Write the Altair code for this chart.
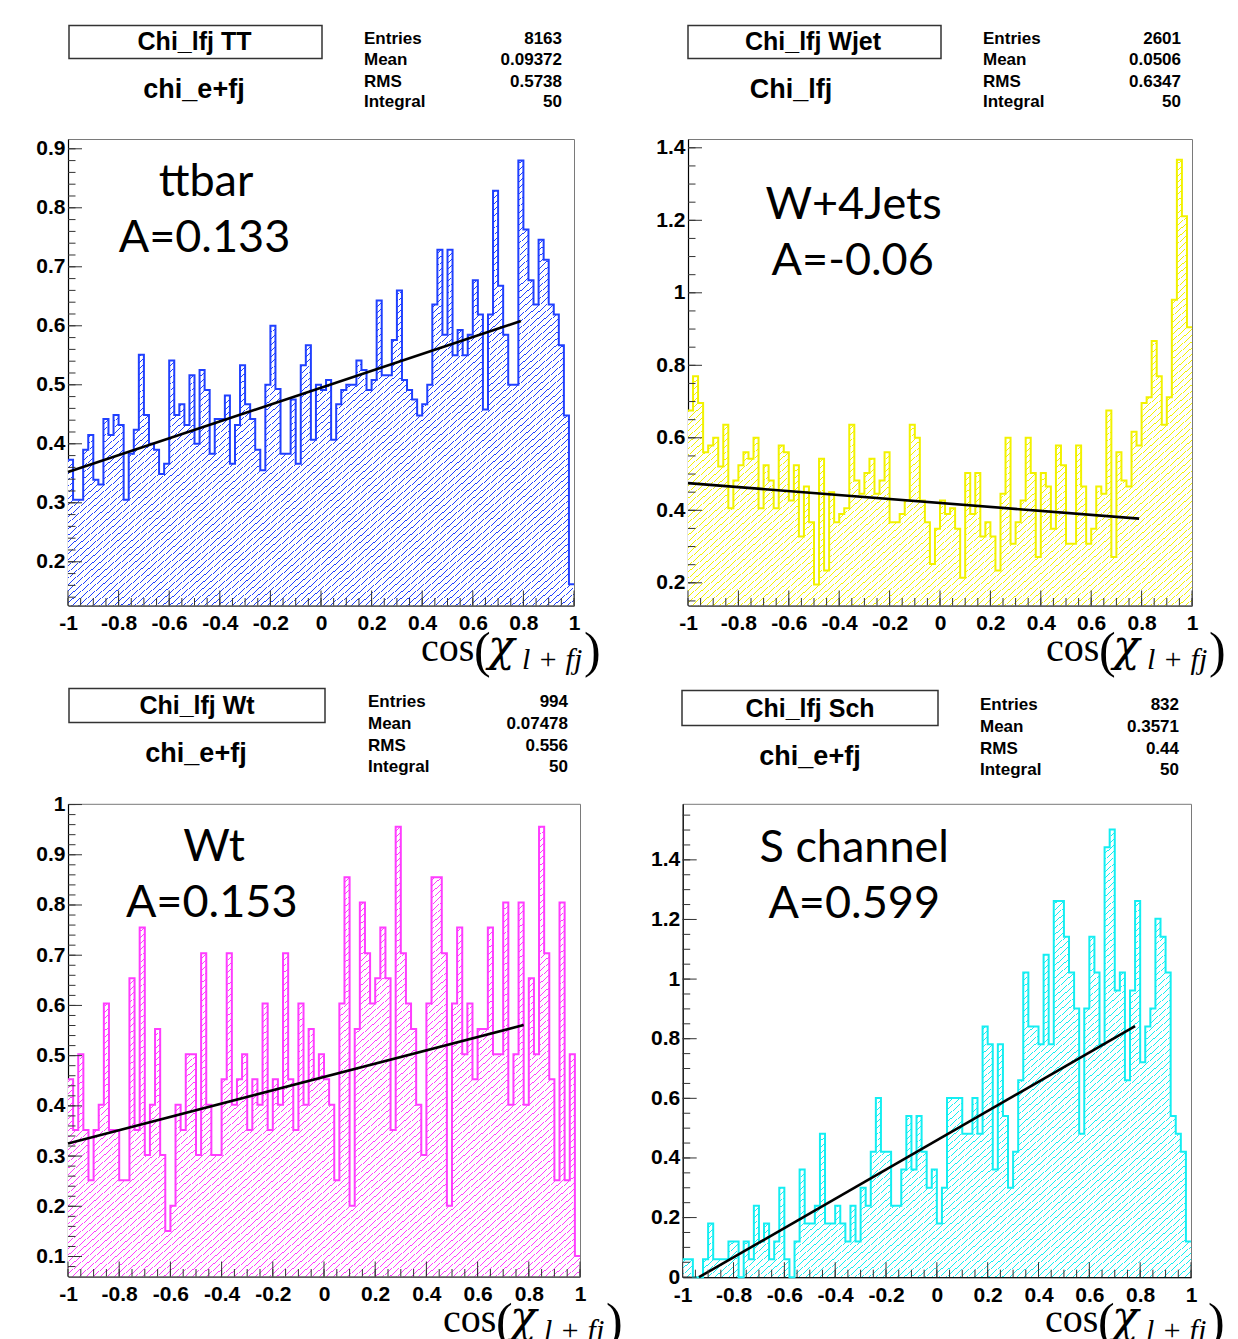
import altair as alt
import pandas as pd

# ---------------- data ----------------
tt_values = [0.373, 0.305, 0.305, 0.390, 0.415, 0.339, 0.331, 0.442, 0.415, 0.449,
             0.432, 0.305, 0.383, 0.424, 0.551, 0.449, 0.400, 0.390, 0.349, 0.366,
             0.541, 0.449, 0.467, 0.432, 0.516, 0.400, 0.525, 0.491, 0.383, 0.442,
             0.442, 0.482, 0.366, 0.432, 0.533, 0.467, 0.442, 0.390, 0.355, 0.500,
             0.600, 0.493, 0.383, 0.383, 0.475, 0.366, 0.533, 0.567, 0.407, 0.500,
             0.491, 0.508, 0.407, 0.467, 0.491, 0.500, 0.500, 0.541, 0.525, 0.491,
             0.508, 0.643, 0.516, 0.516, 0.576, 0.660, 0.508, 0.491, 0.475, 0.448,
             0.467, 0.500, 0.636, 0.729, 0.585, 0.729, 0.550, 0.593, 0.550, 0.585,
             0.677, 0.619, 0.458, 0.619, 0.829, 0.668, 0.585, 0.500, 0.500, 0.880,
             0.763, 0.677, 0.636, 0.746, 0.712, 0.636, 0.619, 0.567, 0.448, 0.162]

wjet_values = [0.675, 0.770, 0.696, 0.560, 0.579, 0.600, 0.521, 0.636, 0.406, 0.482,
               0.524, 0.560, 0.542, 0.600, 0.406, 0.524, 0.482, 0.406, 0.579, 0.560,
               0.427, 0.524, 0.328, 0.466, 0.367, 0.195, 0.542, 0.234, 0.450, 0.367,
               0.390, 0.406, 0.636, 0.482, 0.446, 0.503, 0.542, 0.446, 0.482, 0.560,
               0.367, 0.367, 0.390, 0.427, 0.636, 0.600, 0.427, 0.367, 0.252, 0.349,
               0.427, 0.390, 0.406, 0.349, 0.214, 0.503, 0.390, 0.503, 0.328, 0.367,
               0.328, 0.234, 0.446, 0.600, 0.308, 0.367, 0.427, 0.600, 0.503, 0.271,
               0.503, 0.466, 0.349, 0.579, 0.524, 0.308, 0.308, 0.579, 0.466, 0.308,
               0.349, 0.466, 0.446, 0.675, 0.271, 0.560, 0.482, 0.466, 0.617, 0.579,
               0.696, 0.712, 0.867, 0.770, 0.636, 0.712, 0.981, 1.367, 1.211, 0.905]

wt_values = [0.453, 0.352, 0.503, 0.352, 0.252, 0.352, 0.402, 0.604, 0.352, 0.352,
             0.252, 0.252, 0.654, 0.352, 0.755, 0.302, 0.402, 0.553, 0.302, 0.151,
             0.201, 0.402, 0.352, 0.503, 0.503, 0.302, 0.704, 0.402, 0.302, 0.302,
             0.453, 0.704, 0.402, 0.453, 0.503, 0.352, 0.453, 0.402, 0.604, 0.352,
             0.453, 0.402, 0.704, 0.453, 0.352, 0.604, 0.402, 0.553, 0.453, 0.503,
             0.453, 0.402, 0.252, 0.604, 0.855, 0.201, 0.553, 0.805, 0.704, 0.604,
             0.654, 0.755, 0.654, 0.352, 0.956, 0.704, 0.604, 0.553, 0.402, 0.302,
             0.604, 0.855, 0.855, 0.704, 0.201, 0.604, 0.755, 0.503, 0.604, 0.453,
             0.553, 0.553, 0.755, 0.503, 0.503, 0.805, 0.402, 0.503, 0.805, 0.402,
             0.654, 0.503, 0.956, 0.704, 0.453, 0.252, 0.805, 0.252, 0.503, 0.101]

sch_values = [0.060, 0.060, 0.000, 0.000, 0.060, 0.180, 0.060, 0.060, 0.060, 0.120,
              0.120, 0.000, 0.120, 0.060, 0.240, 0.120, 0.180, 0.060, 0.120, 0.300,
              0.060, 0.000, 0.120, 0.361, 0.180, 0.180, 0.240, 0.481, 0.180, 0.180,
              0.240, 0.180, 0.120, 0.240, 0.120, 0.300, 0.240, 0.421, 0.601, 0.421,
              0.421, 0.240, 0.240, 0.361, 0.541, 0.361, 0.541, 0.421, 0.300, 0.361,
              0.180, 0.300, 0.601, 0.601, 0.601, 0.481, 0.481, 0.601, 0.481, 0.841,
              0.781, 0.361, 0.781, 0.541, 0.300, 0.421, 0.661, 1.022, 0.841, 0.841,
              0.781, 1.082, 0.781, 1.262, 1.262, 1.142, 1.022, 0.901, 0.481, 0.901,
              1.142, 1.022, 0.781, 1.442, 1.502, 0.962, 1.022, 0.661, 0.962, 1.262,
              0.721, 0.841, 0.901, 1.202, 1.142, 1.022, 0.541, 0.481, 0.421, 0.120]

# linear fits (x, y end points)
tt_fit_x, tt_fit_y = [-1.0, 0.79], [0.352, 0.608]
wjet_fit_x, wjet_fit_y = [-1.0, 0.79], [0.475, 0.377]
wt_fit_x, wt_fit_y = [-1.0, 0.78], [0.325, 0.561]
sch_fit_x, sch_fit_y = [-0.936, 0.78], [0.0, 0.842]

stat_names = ["Entries", "Mean", "RMS", "Integral"]
tt_stats = ["8163", "0.09372", "0.5738", "50"]
wjet_stats = ["2601", "0.0506", "0.6347", "50"]
wt_stats = ["994", "0.07478", "0.556", "50"]
sch_stats = ["832", "0.3571", "0.44", "50"]

titles = ["Chi_lfj TT", "Chi_lfj Wjet", "Chi_lfj Wt", "Chi_lfj Sch"]
subtitles = ["chi_e+fj", "Chi_lfj", "chi_e+fj", "chi_e+fj"]
annot_1 = ["ttbar", "W+4Jets", "Wt", "S channel"]
annot_2 = ["A=0.133", "A=-0.06", "A=0.153", "A=0.599"]

x_major = [-1, -0.8, -0.6, -0.4, -0.2, 0, 0.2, 0.4, 0.6, 0.8, 1]
tt_ymajor = [0.2, 0.3, 0.4, 0.5, 0.6, 0.7, 0.8, 0.9]
wjet_ymajor = [0.2, 0.4, 0.6, 0.8, 1, 1.2, 1.4]
wt_ymajor = [0.1, 0.2, 0.3, 0.4, 0.5, 0.6, 0.7, 0.8, 0.9, 1]
sch_ymajor = [0, 0.2, 0.4, 0.6, 0.8, 1, 1.2, 1.4]

N_BINS = 100
bin_edges = [round(-1 + 2.0 * i / N_BINS, 4) for i in range(N_BINS)] + [1.0]


def minor_ticks(lo, hi, step):
    out = []
    k = 0
    while True:
        v = round(lo + k * step, 4)
        if v > hi + 1e-9:
            break
        out.append(v)
        k += 1
    return out


x_minor = minor_ticks(-1, 1, 0.05)

one = pd.DataFrame({"d": [0]})
SANS = "Liberation Sans"
SERIF = "Liberation Serif"
ANNOT_FONT = "Lato"


def hatch(color, n=145, frac=0.15):
    stops = []
    for k in range(n):
        a = k / n
        b = (k + frac) / n
        c = (k + 1) / n
        stops += [alt.GradientStop(offset=a, color=color),
                  alt.GradientStop(offset=b, color=color),
                  alt.GradientStop(offset=b, color="white"),
                  alt.GradientStop(offset=c, color="white")]
    return alt.LinearGradient(gradient="linear", stops=stops, x1=0, y1=0, x2=1, y2=1)


def txt(s, x, y, size, align="left", baseline="alphabetic", font=SANS,
        weight="bold", style="normal"):
    return alt.Chart(one).mark_text(
        text=s, align=align, baseline=baseline, font=font, fontSize=size,
        fontWeight=weight, fontStyle=style, color="black"
    ).encode(x=alt.value(x), y=alt.value(y))


def panel(p):
    W, H = p["w"], p["h"]
    ymin = p["ydom"][0]
    xs = alt.Scale(domain=[-1, 1], nice=False, zero=False)
    ys = alt.Scale(domain=p["ydom"], nice=False, zero=False)
    common = dict(labelExpr="'' + datum.value", ticks=False, grid=False, title=None,
                  domainColor="black", domainWidth=1.2, labelFlush=False,
                  labelOverlap=False, labelFont=SANS, labelFontWeight="bold",
                  labelFontSize=21, labelColor="black")
    xaxis = alt.Axis(values=x_major, labelPadding=7, **common)
    yaxis = alt.Axis(values=p["ymajor"], labelPadding=3, **common)
    X = alt.X("x:Q", scale=xs, axis=xaxis)
    Y = alt.Y("v:Q", scale=ys, axis=yaxis)

    vals = p["values"]
    hist = pd.DataFrame({"x": bin_edges, "v": vals + [vals[-1]]})
    fit = pd.DataFrame({"x": p["fit_x"], "v": p["fit_y"]})

    layers = []
    layers.append(alt.Chart(hist).mark_area(interpolate="step-after", color=hatch(p["color"]),
                                            clip=True)
                  .encode(x=X, y=Y, y2=alt.datum(ymin)))
    layers.append(alt.Chart(hist).mark_line(interpolate="step-after", color=p["color"],
                                            strokeWidth=2, strokeJoin="miter")
                  .encode(x=X, y=Y))
    layers.append(alt.Chart(fit).mark_line(color="black", strokeWidth=2.6).encode(x=X, y=Y))

    # inward ticks
    xt_major = pd.DataFrame({"x": x_major})
    xt_minor = pd.DataFrame({"x": x_minor})
    yt_major = pd.DataFrame({"v": p["ymajor"]})
    yt_minor = pd.DataFrame({"v": p["yminor"]})
    tick_c = "#333333"
    layers.append(alt.Chart(xt_major).mark_rule(color=tick_c, strokeWidth=1)
                  .encode(x=X, y=alt.value(H), y2=alt.value(H - 15)))
    layers.append(alt.Chart(xt_minor).mark_rule(color=tick_c, strokeWidth=1)
                  .encode(x=X, y=alt.value(H), y2=alt.value(H - 7.5)))
    layers.append(alt.Chart(yt_major).mark_rule(color=tick_c, strokeWidth=1)
                  .encode(y=Y, x=alt.value(0), x2=alt.value(14)))
    layers.append(alt.Chart(yt_minor).mark_rule(color=tick_c, strokeWidth=1)
                  .encode(y=Y, x=alt.value(0), x2=alt.value(7.5)))

    # header: title box, subtitle, statistics
    bx = p["box"]
    layers.append(alt.Chart(one).mark_rect(fill="white", stroke="#333333", strokeWidth=1.5)
                  .encode(x=alt.value(bx[0]), x2=alt.value(bx[1]),
                          y=alt.value(bx[2]), y2=alt.value(bx[3])))
    layers.append(txt(p["title"], p["title_xy"][0], p["title_xy"][1], 25,
                      align="center", baseline="middle"))
    layers.append(txt(p["subtitle"], p["sub_xy"][0], p["sub_xy"][1], 27,
                      align="center", baseline="middle"))
    for name, val, yy in zip(stat_names, p["stats"], p["stat_y"]):
        layers.append(txt(name, p["stat_x"][0], yy, 17, baseline="middle"))
        layers.append(txt(val, p["stat_x"][1], yy, 17, align="right", baseline="middle"))

    # annotation
    layers.append(txt(p["a1"], p["a1_xy"][0], p["a1_xy"][1], 45, align="center",
                      font=ANNOT_FONT, weight="normal"))
    layers.append(txt(p["a2"], p["a2_xy"][0], p["a2_xy"][1], 45, align="center",
                      font=ANNOT_FONT, weight="normal"))

    # x-axis title  cos(chi_{l+fj})
    cx = p["xt_x"]
    by = H + 55
    layers.append(txt("cos", cx, by, 40, font=SERIF, weight="normal"))
    layers.append(txt("(", cx + 53, by + 6, 50, font=SERIF, weight="normal"))
    layers.append(txt("\u03c7", cx + 67, by, 44, font="DejaVu Serif", weight="normal",
                      style="italic"))
    layers.append(txt("l + fj", cx + 101, by + 8, 30, font=SERIF, weight="normal",
                      style="italic"))
    layers.append(txt(")", cx + 163, by + 6, 50, font=SERIF, weight="normal"))

    if p.get("anchor"):
        ax, ay = p["anchor"]
        layers.append(alt.Chart(one).mark_rect(fill="white")
                      .encode(x=alt.value(ax), x2=alt.value(ax + 1),
                              y=alt.value(ay), y2=alt.value(ay + 1)))

    return alt.layer(*layers).properties(width=W, height=H)


panels = [
    dict(values=tt_values, color="#2040ff", w=506, h=466.5, ydom=[0.1259, 0.9166],
         ymajor=tt_ymajor, yminor=minor_ticks(0.14, 0.91, 0.02),
         fit_x=tt_fit_x, fit_y=tt_fit_y, title=titles[0], subtitle=subtitles[0],
         stats=tt_stats, box=[1, 254, -113.5, -80.5], title_xy=[126.5, -97],
         sub_xy=[126, -49.5], stat_x=[296, 494], stat_y=[-100.5, -79.5, -57.5, -37.5],
         a1=annot_1[0], a2=annot_2[0], a1_xy=[138, 56.5], a2_xy=[136.5, 113.2],
         xt_x=353, anchor=[-59, -130.5]),
    dict(values=wjet_values, color="#f2f200", w=504, h=466.5, ydom=[0.1374, 1.4243],
         ymajor=wjet_ymajor, yminor=minor_ticks(0.15, 1.42, 0.05),
         fit_x=wjet_fit_x, fit_y=wjet_fit_y, title=titles[1], subtitle=subtitles[1],
         stats=wjet_stats, box=[0, 253, -113.5, -80.5], title_xy=[125, -97],
         sub_xy=[103, -49.5], stat_x=[295, 493], stat_y=[-100.5, -79.5, -57.5, -37.5],
         a1=annot_1[1], a2=annot_2[1], a1_xy=[165.5, 79.8], a2_xy=[164.7, 135.5],
         xt_x=358),
    dict(values=wt_values, color="#ff3dff", w=512, h=472.7, ydom=[0.0602, 1.0015],
         ymajor=wt_ymajor, yminor=minor_ticks(0.08, 1.0, 0.02),
         fit_x=wt_fit_x, fit_y=wt_fit_y, title=titles[2], subtitle=subtitles[2],
         stats=wt_stats, box=[1, 257, -115.3, -81.3], title_xy=[129, -98.3],
         sub_xy=[128, -50.3], stat_x=[300, 500], stat_y=[-102.3, -80.3, -58.3, -37.3],
         a1=annot_1[2], a2=annot_2[2], a1_xy=[146, 56.7], a2_xy=[143.7, 112.7],
         xt_x=375),
    dict(values=sch_values, color="#14eef2", w=508.3, h=473.4, ydom=[0.0, 1.588],
         ymajor=sch_ymajor, yminor=minor_ticks(0.0, 1.58, 0.05),
         fit_x=sch_fit_x, fit_y=sch_fit_y, title=titles[3], subtitle=subtitles[3],
         stats=sch_stats, box=[-0.7, 255.3, -113.3, -78.3], title_xy=[127.3, -95.3],
         sub_xy=[127.3, -47.3], stat_x=[297.3, 496.3], stat_y=[-99.3, -77.3, -55.3, -34.3],
         a1=annot_1[3], a2=annot_2[3], a1_xy=[171.5, 57.7], a2_xy=[171.5, 114],
         xt_x=362.3),
]

charts = [panel(p) for p in panels]
row1 = alt.hconcat(charts[0], charts[1], spacing=114, bounds="flush")
row2 = alt.hconcat(charts[2], charts[3], spacing=102.7, bounds="flush")
# with flush bounds the nested row counts as zero height, so the spacing
# covers the first row's plot height plus the gap between the rows
chart = alt.vconcat(row1, row2, spacing=664.8, bounds="flush").properties(padding=0)

chart = chart.configure_view(stroke="#7a7a7a", strokeWidth=1)

chart.save("out.html", embed_options={"renderer": "svg", "actions": False})
